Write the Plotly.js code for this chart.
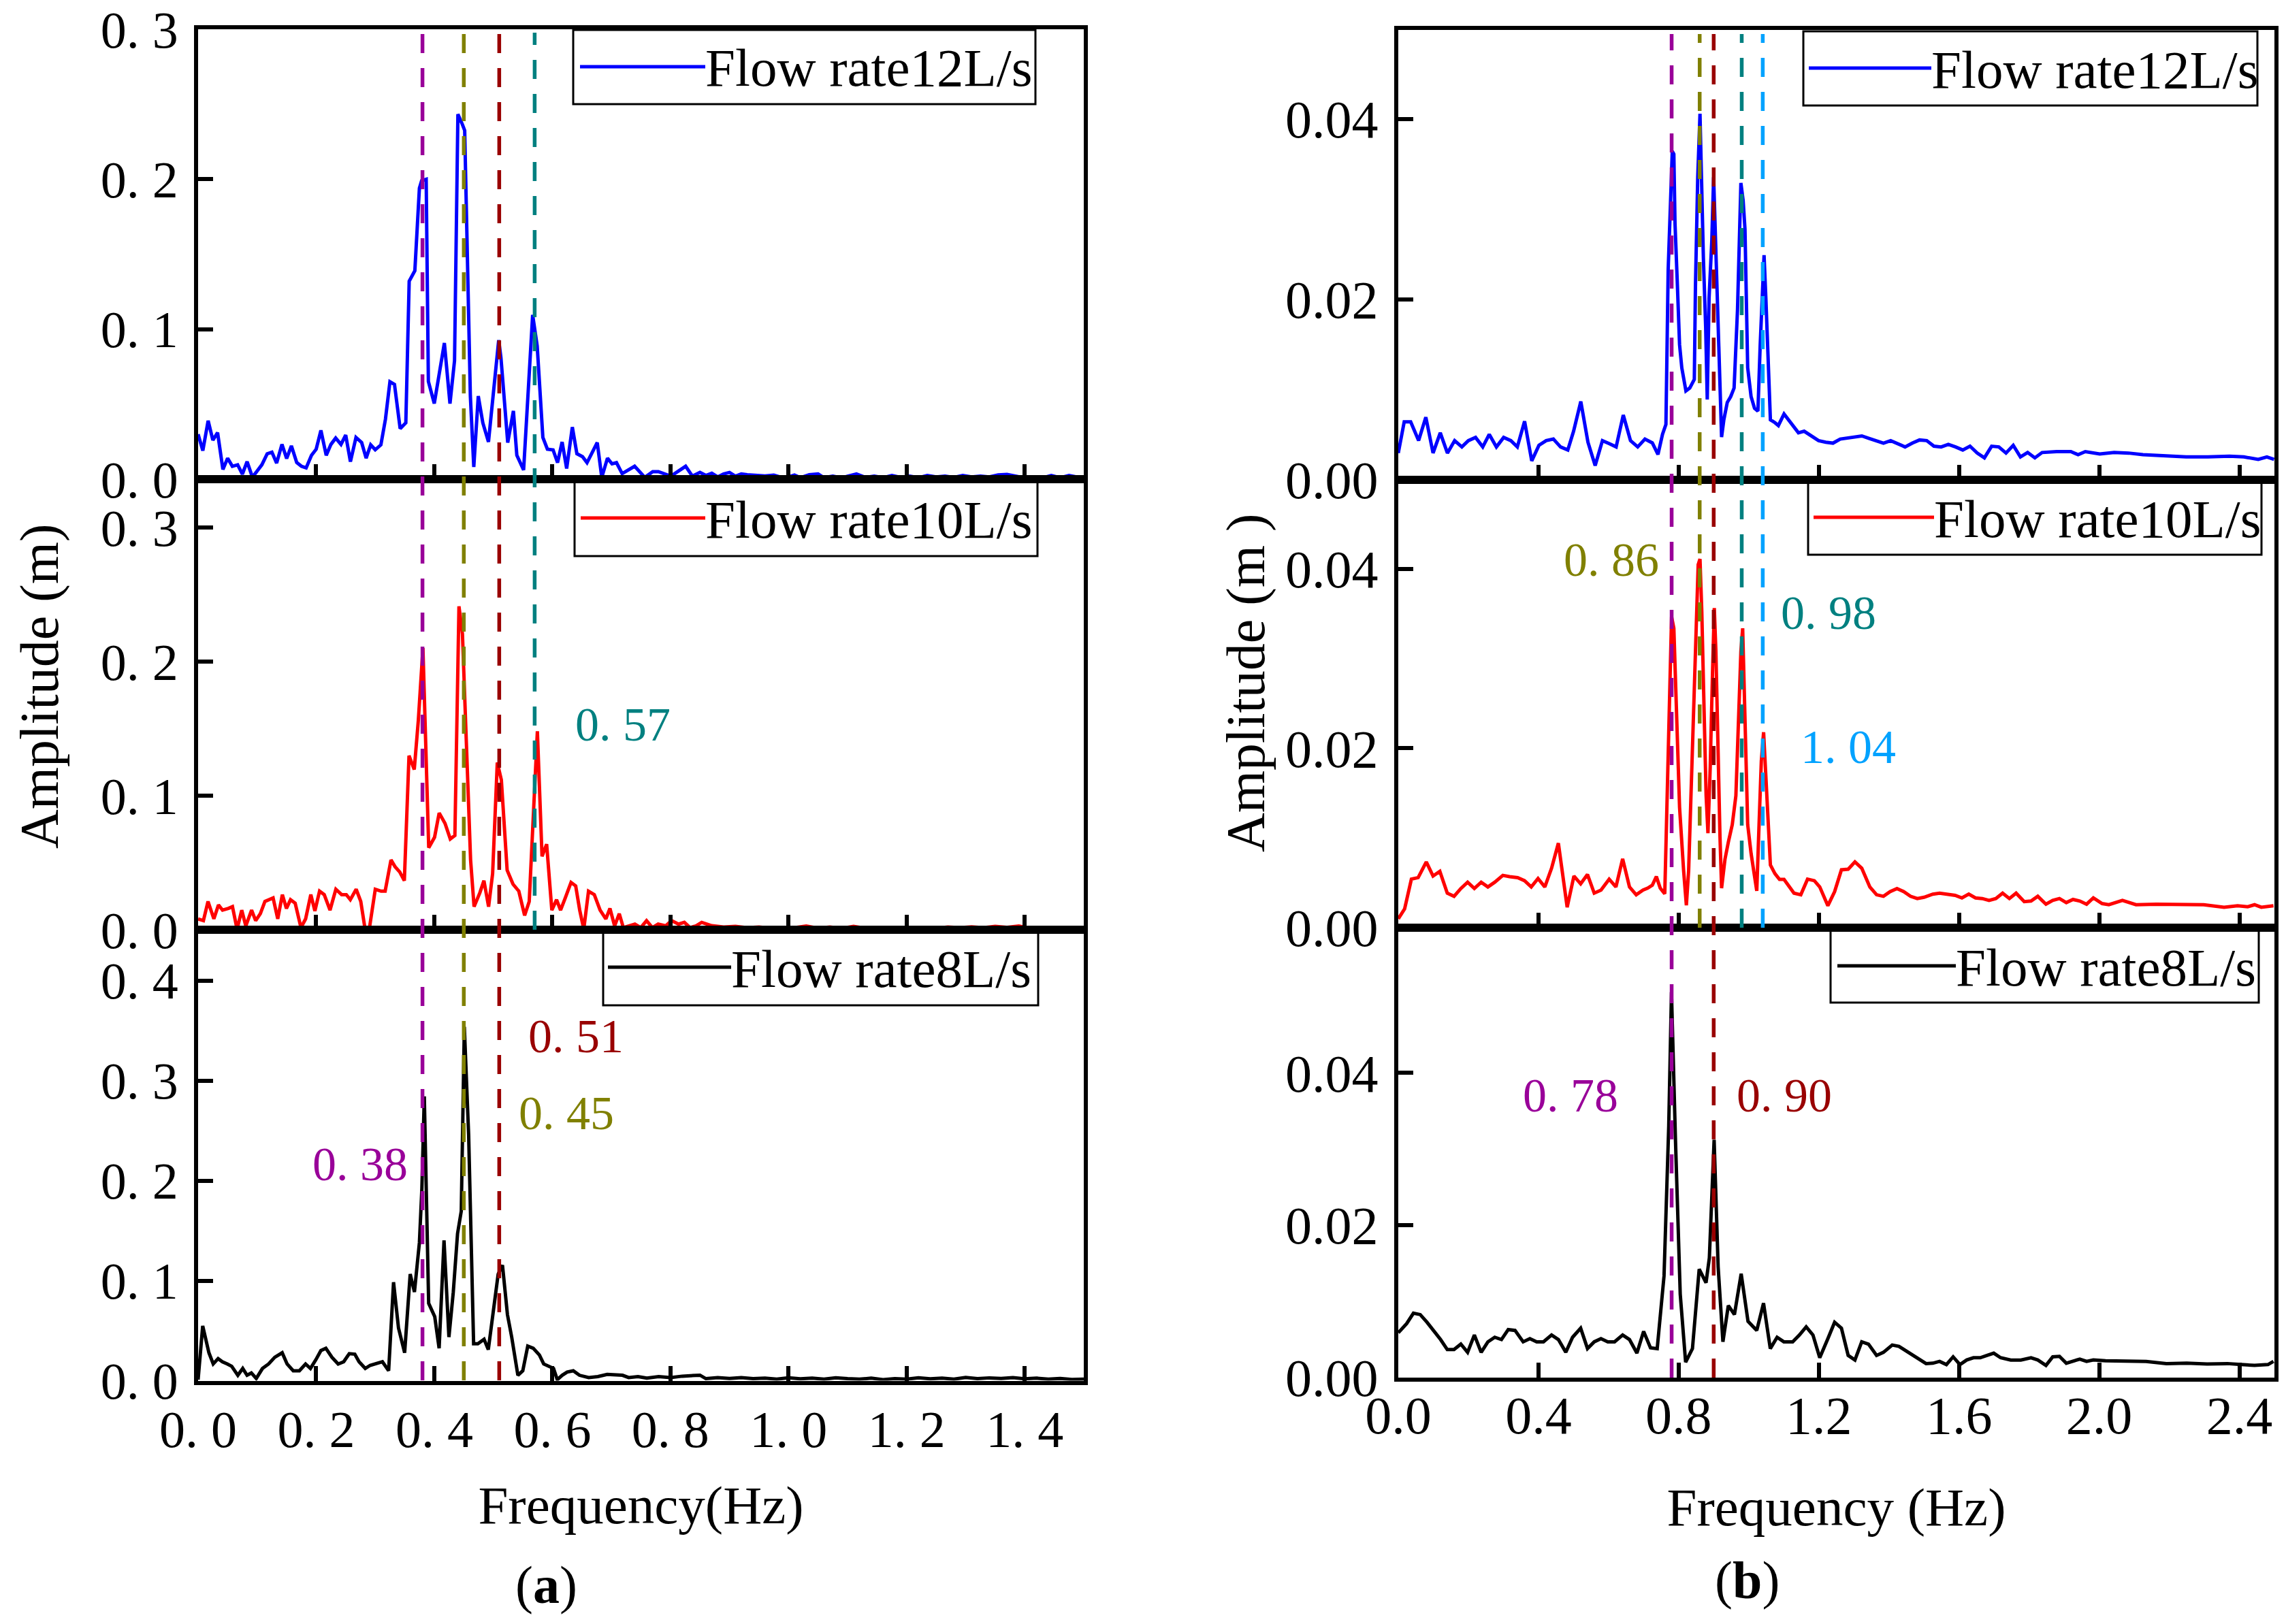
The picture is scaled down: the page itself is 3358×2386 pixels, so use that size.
<!DOCTYPE html>
<html>
<head>
<meta charset="utf-8">
<script src="https://cdn.plot.ly/plotly-3.0.1.min.js"></script>
<style>html,body{margin:0;padding:0;background:#fff;}#chart{width:3358px;height:2386px;}</style>
</head>
<body>
<div id="chart"></div>
<script>
// ---------- (a) series ----------
const freqA12 = [0,0.008,0.017,0.025,0.033,0.042,0.05,0.058,0.067,0.075,0.083,0.092,0.1,0.108,0.117,0.125,0.133,0.142,0.15,0.158,0.167,0.175,0.183,0.192,0.2,0.208,0.217,0.225,0.233,0.242,0.25,0.258,
0.2674,0.277,0.2846,0.2923,0.3,0.3096,0.3173,0.3249,0.3326,0.3422,0.3518,0.3575,0.3671,0.3748,0.3786,0.3863,0.39,0.4,0.4171,0.4266,0.4343,0.44,0.4477,0.4515,0.4611,0.4669,0.4745,0.4822,0.4918,0.5091,0.5129,0.5244,0.534,0.5398,0.5513,0.5666,0.5743,0.5839,0.5916,0.6012,0.6088,0.6165,0.6242,0.6338,0.6415,0.6511,0.6587,0.676,0.6837,0.6933,0.701,0.7086,0.7182,0.7393,0.7566,0.77,0.7796,0.8007,0.8257,0.8372,
0.85,0.86,0.87,0.88,0.89,0.9,0.91,0.92,0.93,0.94,0.95,0.96,0.975,0.99,1.0,1.01,1.02,1.035,1.05,1.06,1.075,1.09,1.1,1.115,1.13,1.145,1.16,1.175,1.19,1.205,1.22,1.235,1.25,1.265,1.28,1.295,1.31,1.325,1.34,1.355,1.37,1.385,1.4,1.415,1.43,1.445,1.46,1.475,1.49,1.5];
const ampA12 = [0.030,0.019,0.039,0.026,0.031,0.0065,0.014,0.0086,0.0096,0.0034,0.0117,0.0013,0.0054,0.0096,0.0169,0.018,0.0107,0.0232,0.0138,0.0222,0.0111,0.0086,0.0075,0.0159,0.020,0.0325,0.0159,0.0232,0.0274,0.0232,0.0294,0.0117,
0.0278,0.0244,0.014,0.0229,0.0196,0.0229,0.040,0.065,0.0632,0.0337,0.0376,0.132,0.139,0.194,0.199,0.200,0.0652,0.0504,0.0908,0.0504,0.079,0.2434,0.2364,0.2325,0.0554,0.0081,0.0554,0.0376,0.0248,0.0927,0.081,0.0244,0.0455,0.016,0.0061,0.1095,0.0888,0.0278,0.020,0.0195,0.011,0.0248,0.0071,0.0347,0.017,0.015,0.011,0.0244,0.0012,0.014,0.0102,0.011,0.0037,0.0086,0.0012,0.005,0.005,0.002,0.0086,0.002,
0.0045,0.0025,0.004,0.0015,0.0035,0.0045,0.002,0.0035,0.003,0.0028,0.0025,0.0022,0.0027,0.001,0.0015,0.0028,0.001,0.003,0.0035,0.001,0.002,0.0008,0.002,0.0035,0.0012,0.002,0.001,0.0025,0.0012,0.002,0.001,0.0025,0.0015,0.002,0.0012,0.0025,0.0015,0.002,0.0015,0.0028,0.0032,0.0018,0.0008,0.001,0.0008,0.0025,0.001,0.0025,0.001,0.0005];

const freqA10 = [0,0.009,0.0168,0.0267,0.0345,0.0414,0.0513,0.0582,0.066,0.0739,0.0808,0.0906,0.0975,0.1054,0.1132,0.1201,0.127,0.1349,0.1427,0.1496,0.1565,0.1644,0.1742,0.1821,0.1909,0.1978,0.2057,0.2136,0.2234,0.2333,0.2431,0.251,0.2578,0.2677,0.2755,0.2824,0.2903,0.3001,0.3099,0.3168,0.3267,0.3336,0.3415,0.3493,0.3572,0.3661,0.3729,0.3808,0.3906,0.4005,0.4083,0.4182,0.4271,0.4349,0.4418,0.4477,0.4615,0.4674,0.4772,0.4841,0.492,0.4988,0.5067,0.5136,0.5234,0.5333,0.5431,0.553,0.5608,0.5746,0.5825,0.5903,0.5991,0.6071,0.6139,0.6218,0.6316,0.6395,0.6463,0.6532,0.6612,0.671,0.6808,0.6906,0.6975,0.7054,0.7133,0.7202,0.73,0.7398,0.7497,0.7595,0.7694,0.7791,0.7919,0.8018,0.8137,0.8235,0.8332,0.8431,0.8529,
0.87,0.89,0.91,0.93,0.95,0.97,0.99,1.01,1.03,1.05,1.07,1.09,1.11,1.13,1.15,1.17,1.19,1.21,1.23,1.25,1.27,1.29,1.31,1.33,1.35,1.37,1.39,1.41,1.43,1.45,1.47,1.49,1.5];
const ampA10 = [0.0081,0.0068,0.0211,0.0081,0.0185,0.0146,0.0159,0.0172,0.0004,0.0146,0.0029,0.0146,0.0068,0.012,0.0211,0.0224,0.0237,0.0081,0.0262,0.0159,0.0224,0.0198,0.0016,0.0081,0.0262,0.014,0.0288,0.0262,0.0146,0.0302,0.0262,0.0262,0.0224,0.0302,0.0211,0.0016,0.0016,0.0302,0.0288,0.0288,0.0521,0.047,0.0431,0.0366,0.1298,0.1195,0.1557,0.2101,0.0612,0.069,0.0871,0.0793,0.0677,0.0703,0.2412,0.2205,0.0521,0.0172,0.0276,0.0366,0.0172,0.0418,0.1247,0.1117,0.0444,0.034,0.0288,0.0107,0.0211,0.148,0.0547,0.0638,0.0146,0.0224,0.0146,0.0237,0.0353,0.0327,0.0146,0.0004,0.0288,0.0262,0.0146,0.0081,0.0159,0.0029,0.012,0.0016,0.0029,0.0042,0.0016,0.0068,0.0016,0.0042,0.0029,0.0068,0.0042,0.0055,0.0016,0.0029,0.0055,
0.003,0.002,0.0025,0.0015,0.002,0.0012,0.0018,0.0015,0.0028,0.0012,0.002,0.001,0.0025,0.0012,0.0018,0.0008,0.0015,0.001,0.0018,0.0012,0.002,0.0015,0.0022,0.0015,0.0025,0.0018,0.0028,0.001,0.0015,0.0008,0.0012,0.0008,0.0015];

const freqA8 = [0,0.0078,0.0183,0.0256,0.0339,0.0412,0.0496,0.0569,0.0673,0.0756,0.0829,0.0902,0.0985,0.109,0.1194,0.1298,0.1424,0.1507,0.1611,0.1715,0.182,0.1903,0.1997,0.208,0.2164,0.2267,0.2372,0.2466,0.256,0.2654,0.2726,0.2831,0.2914,0.3019,0.3122,0.3227,0.331,0.3394,0.3498,0.3592,0.3664,0.3748,0.379,0.3831,0.3905,0.4008,0.4082,0.4165,0.4248,0.4322,0.4394,0.4457,0.4509,0.4582,0.4666,0.4738,0.4843,0.4915,0.4999,0.5082,0.5155,0.5239,0.5311,0.5416,0.5499,0.5583,0.5676,0.5781,0.5853,0.5937,0.602,0.6083,0.6166,0.625,0.6354,0.6459,0.6615,0.6771,0.6927,0.7188,0.7292,
0.745,0.76,0.78,0.8,0.82,0.835,0.85,0.86,0.88,0.9,0.92,0.94,0.96,0.98,1.0,1.02,1.04,1.06,1.08,1.1,1.12,1.14,1.16,1.18,1.2,1.22,1.24,1.26,1.28,1.3,1.32,1.34,1.36,1.38,1.4,1.42,1.44,1.46,1.48,1.5];
const ampA8 = [0.001,0.0548,0.0279,0.0167,0.022,0.0189,0.0167,0.0144,0.0054,0.0122,0.0054,0.0077,0.0022,0.0122,0.0167,0.0234,0.0279,0.0167,0.0099,0.0099,0.0167,0.0122,0.0212,0.0301,0.0324,0.0234,0.0167,0.0189,0.027,0.0265,0.0189,0.0122,0.0153,0.0167,0.0189,0.0099,0.0984,0.0526,0.0279,0.1065,0.0886,0.138,0.192,0.2841,0.0773,0.0639,0.0324,0.1403,0.0436,0.0886,0.147,0.1695,0.3537,0.2459,0.0369,0.0369,0.0414,0.031,0.0706,0.1065,0.1155,0.0661,0.0436,0.0054,0.0099,0.0346,0.0324,0.0256,0.0167,0.0144,0.0122,0.001,0.0054,0.0086,0.0099,0.0054,0.0031,0.0041,0.0063,0.0054,0.0031,
0.004,0.0025,0.004,0.003,0.0045,0.005,0.0055,0.002,0.003,0.0022,0.003,0.002,0.0025,0.0015,0.0028,0.0018,0.0025,0.0015,0.0028,0.002,0.0015,0.0025,0.001,0.002,0.0015,0.0028,0.0018,0.0025,0.0015,0.0032,0.002,0.0028,0.0022,0.003,0.0018,0.0025,0.0015,0.0022,0.0012,0.0015];

// ---------- (b) series ----------
const freqB12 = [0,0.0169,0.0354,0.058,0.0786,0.0992,0.1198,0.1402,0.1608,0.1814,0.1999,0.2205,0.241,0.2596,0.28,0.3007,0.3213,0.3397,0.3604,0.3808,0.4014,0.422,0.4426,0.463,0.4837,0.5002,0.5208,0.5412,0.5618,0.5825,0.6029,0.6216,0.642,0.6626,0.6832,0.7038,
0.7248,0.741,0.754,0.7637,0.7701,0.7766,0.7818,0.7863,0.7896,0.796,0.8026,0.809,0.8207,0.8317,0.8447,0.8479,0.8544,0.8609,0.866,0.8706,0.8771,0.8816,0.8868,0.8946,0.8998,0.905,0.9115,0.9179,0.9225,0.929,0.9387,0.9484,0.9582,0.9679,0.9776,0.984,0.9893,0.997,1.0067,1.0165,1.0262,1.0327,1.0391,1.0437,1.0489,1.0554,1.0618,1.0748,1.0846,1.1007,
1.1252,1.1418,1.1581,1.1787,1.1993,1.2199,1.2404,1.261,1.2816,1.3021,1.3227,1.3433,1.3639,1.3844,1.405,1.4256,1.4461,1.4667,1.4873,1.5078,1.5284,1.549,1.5695,1.5901,1.6107,1.6313,1.6518,1.6724,1.693,1.7135,1.7341,1.7547,1.7752,1.7958,1.8164,1.837,1.8781,1.9192,1.9398,1.9603,2.0015,2.0426,2.0837,2.1248,2.1865,2.2482,2.3099,2.3716,2.4127,2.4538,2.4785,2.499];
const ampB12 = [0.00297,0.00643,0.00643,0.00435,0.00695,0.00297,0.00522,0.00297,0.00435,0.00365,0.00435,0.0047,0.00365,0.00504,0.00365,0.0047,0.00435,0.00365,0.0065,0.0021,0.00383,0.00435,0.00452,0.00365,0.00331,0.00539,0.00868,0.00417,0.00158,0.00435,0.004,0.00365,0.00719,0.00435,0.00365,0.00452,
0.0041,0.00282,0.00506,0.00615,0.0233,0.03035,0.03642,0.0361,0.02842,0.02202,0.01498,0.01242,0.00986,0.01018,0.01114,0.02138,0.03355,0.04059,0.03162,0.02458,0.01691,0.0089,0.02011,0.02651,0.03355,0.02651,0.01691,0.0105,0.00474,0.00666,0.00858,0.00922,0.01018,0.01882,0.0329,0.03098,0.02778,0.01242,0.00922,0.00794,0.00762,0.01498,0.02202,0.02491,0.02011,0.01306,0.00666,0.00634,0.00602,0.0073,
0.00608,0.00522,0.00539,0.00487,0.00435,0.00417,0.00407,0.00452,0.00462,0.0047,0.00487,0.0046,0.00435,0.00407,0.00435,0.004,0.00365,0.00407,0.00442,0.00435,0.00373,0.00365,0.00393,0.00365,0.00331,0.00373,0.00297,0.00244,0.00373,0.00365,0.00297,0.00383,0.00254,0.00303,0.00244,0.00303,0.00313,0.00313,0.00279,0.00313,0.00286,0.00303,0.00297,0.00279,0.00262,0.00254,0.00254,0.00262,0.00254,0.00227,0.00254,0.00227];

const freqB10 = [0,0.0181,0.0374,0.0567,0.0799,0.0992,0.1186,0.1398,0.1591,0.1785,0.1978,0.2171,0.2365,0.2557,0.2752,0.2983,0.3176,0.3407,0.3602,0.3794,0.3987,0.4181,0.4374,0.4568,0.4819,0.5012,0.5204,0.5399,0.5591,0.5784,0.6017,0.621,0.6402,0.6597,0.6789,0.6982,
0.7118,0.7248,0.7364,0.7474,0.7604,0.7669,0.7734,0.7798,0.7863,0.7928,0.8026,0.8142,0.822,0.8285,0.8382,0.8479,0.8557,0.8609,0.866,0.8725,0.8784,0.8836,0.8901,0.8965,0.9017,0.9063,0.9115,0.9179,0.9225,0.9322,0.9419,0.953,0.9633,0.9698,0.9776,0.9827,0.9873,0.997,1.0067,1.0165,1.0229,1.0294,1.0359,1.0424,1.0476,1.0541,1.0618,1.0748,1.0878,1.1007,
1.106,1.1291,1.1486,1.1678,1.1871,1.2026,1.2258,1.245,1.2645,1.2837,1.303,1.3224,1.3456,1.3648,1.3843,1.4035,1.423,1.4422,1.4615,1.4809,1.5002,1.5253,1.5445,1.564,1.5891,1.6083,1.6278,1.647,1.6663,1.6857,1.705,1.7244,1.7437,1.7629,1.7861,1.8055,1.8248,1.8481,1.8674,1.8866,1.9061,1.9253,1.9446,1.964,1.9833,2.0084,2.0276,2.0663,2.105,2.163,2.2209,2.2983,2.3563,2.3948,2.4238,2.4432,2.4625,2.4973];
const ampB10 = [0.001,0.0021,0.00541,0.00558,0.00733,0.00576,0.00628,0.00385,0.0035,0.00437,0.00507,0.00437,0.00507,0.00454,0.00507,0.00583,0.00569,0.00558,0.00524,0.00454,0.00548,0.00454,0.00663,0.00942,0.00228,0.00576,0.00489,0.00593,0.00385,0.00419,0.00541,0.00454,0.00768,0.00454,0.00367,0.00419,
0.00441,0.00474,0.0057,0.00441,0.00377,0.01471,0.02629,0.03465,0.03336,0.02629,0.01342,0.00635,0.00249,0.00635,0.01792,0.03079,0.04044,0.04108,0.03529,0.02436,0.01471,0.01053,0.01792,0.02821,0.03562,0.03079,0.01986,0.01021,0.00441,0.00763,0.00956,0.01149,0.01471,0.02178,0.03079,0.03336,0.02629,0.01149,0.00827,0.0057,0.0041,0.01149,0.01857,0.02178,0.01792,0.01149,0.00699,0.00602,0.00538,0.00538,
0.00507,0.00385,0.00367,0.00541,0.00524,0.00454,0.00245,0.00402,0.00645,0.00652,0.00733,0.00663,0.00454,0.00367,0.0035,0.00402,0.00437,0.00402,0.0035,0.00325,0.00339,0.00374,0.00385,0.00374,0.0036,0.00332,0.00374,0.00332,0.00325,0.00304,0.00325,0.00385,0.00325,0.00385,0.0029,0.00297,0.0035,0.00262,0.00304,0.00325,0.0028,0.00315,0.00297,0.00262,0.00332,0.00269,0.00256,0.00304,0.00256,0.00262,0.00256,0.00256,0.00228,0.00245,0.00234,0.00256,0.00228,0.00245];

const freqB8 = [0,0.0239,0.0432,0.0626,0.0819,0.1011,0.1206,0.1398,0.1591,0.1785,0.1978,0.2171,0.2365,0.2557,0.2752,0.2944,0.3137,0.3331,0.3563,0.3755,0.395,0.4142,0.4374,0.4568,0.478,0.4973,0.5204,0.5399,0.5591,0.5784,0.5978,0.6171,0.6402,0.6597,0.6809,0.7001,0.7196,0.7388,0.7583,0.7717,0.7795,0.7909,0.8045,0.8199,0.8394,0.8586,0.8781,0.8876,0.9012,0.9127,0.9263,0.9417,0.9592,0.9784,0.9979,1.0229,1.0422,1.0615,1.0809,1.1002,1.1253,1.1447,1.1639,1.1832,1.2026,1.2258,1.245,1.2645,1.2837,1.303,1.3224,1.3417,1.3648,1.3843,1.4094,1.4286,1.4481,1.4673,1.4866,1.506,1.5253,1.5445,1.564,1.5832,1.6027,1.6219,1.6412,1.6606,1.6799,1.6991,1.7186,1.7476,1.7765,1.8055,1.8248,1.8481,1.8674,1.8866,1.9061,1.9253,1.9446,1.964,1.9833,2.0181,2.076,2.134,2.1919,2.2499,2.3078,2.3658,2.4045,2.4432,2.4817,2.4973];
const ampB8 = [0.00585,0.00705,0.00842,0.00824,0.00723,0.00616,0.00496,0.00364,0.00364,0.00436,0.00328,0.00556,0.00328,0.00466,0.00526,0.00496,0.00627,0.00616,0.00466,0.00507,0.00466,0.00466,0.00556,0.00496,0.00328,0.00526,0.00645,0.00377,0.00466,0.00507,0.00466,0.00466,0.00556,0.00496,0.00317,0.00603,0.00388,0.00377,0.01332,0.03302,0.05063,0.03122,0.01093,0.00198,0.00377,0.01421,0.01242,0.0157,0.03122,0.01451,0.00466,0.00943,0.00824,0.01361,0.00735,0.00616,0.00974,0.00377,0.00526,0.00466,0.00466,0.00556,0.00663,0.00556,0.00257,0.00507,0.00723,0.00645,0.00287,0.00227,0.00466,0.00436,0.00287,0.00328,0.00424,0.00406,0.00346,0.00287,0.00227,0.0018,0.00185,0.00209,0.00167,0.00269,0.00167,0.00227,0.00257,0.00257,0.00287,0.00317,0.00257,0.00227,0.00227,0.00257,0.00227,0.00156,0.00269,0.00275,0.00185,0.00209,0.00239,0.00209,0.00227,0.00216,0.00209,0.00209,0.0018,0.00185,0.00174,0.0018,0.00167,0.00156,0.00167,0.00209];

// ---------- labels, ticks, marker frequencies ----------
const seriesNames = ["Flow rate12L/s", "Flow rate10L/s", "Flow rate8L/s"];
const seriesColors = ["#0000ff", "#ff0000", "#000000"];
const tickValsAX = [0, 0.2, 0.4, 0.6, 0.8, 1.0, 1.2, 1.4];
const tickTextAX = ["0. 0", "0. 2", "0. 4", "0. 6", "0. 8", "1. 0", "1. 2", "1. 4"];
const tickValsAY3 = [0, 0.1, 0.2, 0.3];
const tickTextAY3 = ["0. 0", "0. 1", "0. 2", "0. 3"];
const tickValsAY4 = [0, 0.1, 0.2, 0.3, 0.4];
const tickTextAY4 = ["0. 0", "0. 1", "0. 2", "0. 3", "0. 4"];
const tickValsBX = [0, 0.4, 0.8, 1.2, 1.6, 2.0, 2.4];
const tickTextBX = ["0.0", "0.4", "0.8", "1.2", "1.6", "2.0", "2.4"];
const tickValsBY = [0, 0.02, 0.04];
const tickTextBY = ["0.00", "0.02", "0.04"];
// dominant frequencies (Hz) and their label text
const markFreqA = [0.38, 0.45, 0.51, 0.57];
const markTextA = ["0. 38", "0. 45", "0. 51", "0. 57"];
const markFreqB = [0.78, 0.86, 0.90, 0.98, 1.04];
const markTextB = ["0. 78", "0. 86", "0. 90", "0. 98", "1. 04"];

// ---------- layout helpers ----------
const W = 3358, H = 2386;
const px = v => v / W, py = v => 1 - v / H;
const FONT = "Liberation Serif, Times New Roman, serif";
const C = {purple:"#990099", olive:"#808000", dred:"#990000", teal:"#008080", lblue:"#00a2ff"};
const markColorA = [C.purple, C.olive, C.dred, C.teal];
const markColorB = [C.purple, C.olive, C.dred, C.teal, C.lblue];

const domXA = [px(291), px(1592)], domXB = [px(2054), px(3341)];
const domYA = [[py(704), py(43)], [py(1366), py(704)], [py(2028.5), py(1366)]];
const domYB = [[py(705), py(43.6)], [py(1363), py(705)], [py(2023.5), py(1363)]];
const rangeYA = [[0, 0.3], [0, 0.336], [0, 0.4507]];
const rangeYB = [[0, 0.0499], [0, 0.0499], [0, 0.0591]];

const freqs = [freqA12, freqA10, freqA8, freqB12, freqB10, freqB8];
const amps = [ampA12, ampA10, ampA8, ampB12, ampB10, ampB8];

const data = [];
for (let i = 0; i < 6; i++) {
  const s = i === 0 ? "" : String(i + 1);
  data.push({
    type: "scatter", mode: "lines", x: freqs[i], y: amps[i],
    name: seriesNames[i % 3], showlegend: false,
    xaxis: "x" + s, yaxis: "y" + s,
    line: {color: seriesColors[i % 3], width: 5}, hoverinfo: "skip"
  });
}

const layout = {
  width: W, height: H, margin: {l: 0, r: 0, t: 0, b: 0},
  paper_bgcolor: "#ffffff", plot_bgcolor: "#ffffff", showlegend: false,
  font: {family: FONT, color: "#000", size: 76},
  shapes: [], annotations: []
};

function xAxis(isA, bottom, anchor) {
  return {
    domain: isA ? domXA : domXB, anchor: anchor,
    range: isA ? [0, 1.5] : [0, 2.5],
    tickmode: "array", tickvals: isA ? tickValsAX : tickValsBX, ticktext: isA ? tickTextAX : tickTextBX,
    showticklabels: bottom, ticks: "inside", ticklen: 22, tickwidth: 6, tickcolor: "#000",
    showline: true, linewidth: 6, linecolor: "#000", mirror: true,
    showgrid: false, zeroline: false, ticklabelstandoff: isA ? 0 : -17,
    tickfont: {family: FONT, size: isA ? 76 : 78, color: "#000"}, fixedrange: true
  };
}
function yAxis(isA, row, anchor) {
  return {
    domain: isA ? domYA[row] : domYB[row], anchor: anchor,
    range: isA ? rangeYA[row] : rangeYB[row],
    tickmode: "array",
    tickvals: isA ? (row === 2 ? tickValsAY4 : tickValsAY3) : tickValsBY,
    ticktext: isA ? (row === 2 ? tickTextAY4 : tickTextAY3) : tickTextBY,
    ticks: "inside", ticklen: 22, tickwidth: 6, tickcolor: "#000",
    showline: true, linewidth: 6, linecolor: "#000", mirror: true,
    showgrid: false, zeroline: false, ticklabelstandoff: 8,
    tickfont: {family: FONT, size: isA ? 76 : 78, color: "#000"}, fixedrange: true
  };
}
for (let i = 0; i < 6; i++) {
  const s = i === 0 ? "" : String(i + 1);
  const isA = i < 3, row = i % 3;
  layout["xaxis" + s] = xAxis(isA, row === 2, "y" + s);
  layout["yaxis" + s] = yAxis(isA, row, "x" + s);
}
layout.xaxis3.title = {text: "Frequency(Hz)", font: {family: FONT, size: 79, color: "#000"}, standoff: 44};
layout.xaxis6.title = {text: "Frequency (Hz)", font: {family: FONT, size: 79, color: "#000"}, standoff: 66};

// dashed marker lines
const dash = "28px,22px";
markFreqA.forEach((f, k) => {
  const yBottom = k === 3 ? py(1366) : py(2028);
  layout.shapes.push({type: "line", xref: "x3", yref: "paper", x0: f, x1: f, y0: yBottom, y1: py(48),
    line: {color: markColorA[k], width: 5.5, dash: dash}, layer: "above"});
});
markFreqB.forEach((f, k) => {
  const yBottom = (k === 0 || k === 2) ? py(2024) : py(1363);
  layout.shapes.push({type: "line", xref: "x6", yref: "paper", x0: f, x1: f, y0: yBottom, y1: py(50),
    line: {color: markColorB[k], width: 5.5, dash: dash}, layer: "above"});
});

// frequency labels
const labelPosA = [[528.5, 1710], [831.5, 1635], [845.5, 1522], [914.5, 1064]];
const labelPosB = [[2306.5, 1610], [2366.5, 822], [2621, 1610], [2685.5, 900], [2714.5, 1098]];
markTextA.forEach((t, k) => layout.annotations.push({text: t, xref: "paper", yref: "paper",
  x: px(labelPosA[k][0]), y: py(labelPosA[k][1]), xanchor: "center", yanchor: "middle", showarrow: false,
  font: {family: FONT, size: 70, color: markColorA[k]}}));
markTextB.forEach((t, k) => layout.annotations.push({text: t, xref: "paper", yref: "paper",
  x: px(labelPosB[k][0]), y: py(labelPosB[k][1]), xanchor: "center", yanchor: "middle", showarrow: false,
  font: {family: FONT, size: 70, color: markColorB[k]}}));

// legend boxes (box x0,y0,x1,y1, line x0,x1,y)
const legendGeo = [
  [842, 44, 1521, 153, 852, 1036, 98],
  [844, 706, 1524, 817, 853, 1036, 761],
  [886, 1368, 1525, 1477, 893, 1074, 1421],
  [2649, 46, 3316, 155, 2657, 2837, 100],
  [2656, 705, 3322, 815, 2664, 2841, 760],
  [2689, 1365, 3318, 1473, 2699, 2873, 1419]
];
legendGeo.forEach((g, i) => {
  layout.shapes.push({type: "rect", xref: "paper", yref: "paper", x0: px(g[0]), x1: px(g[2]), y0: py(g[3]), y1: py(g[1]),
    line: {color: "#000", width: 3}, fillcolor: "rgba(255,255,255,0)", layer: "above"});
  layout.shapes.push({type: "line", xref: "paper", yref: "paper", x0: px(g[4]), x1: px(g[5]), y0: py(g[6]), y1: py(g[6]),
    line: {color: seriesColors[i % 3], width: 5}, layer: "above"});
  layout.annotations.push({text: seriesNames[i % 3], xref: "paper", yref: "paper", x: px(g[5] - 2), y: py(g[6] + 2),
    xanchor: "left", yanchor: "middle", showarrow: false, font: {family: FONT, size: 79, color: "#000"}});
});

// y-axis titles and panel captions
layout.annotations.push({text: "Amplitude (m)", xref: "paper", yref: "paper", x: px(58), y: py(1008),
  textangle: -90, xanchor: "center", yanchor: "middle", showarrow: false, font: {family: FONT, size: 80, color: "#000"}});
layout.annotations.push({text: "Amplitude (m )", xref: "paper", yref: "paper", x: px(1830), y: py(1003),
  textangle: -90, xanchor: "center", yanchor: "middle", showarrow: false, font: {family: FONT, size: 80, color: "#000"}});
layout.annotations.push({text: "(<b>a</b>)", xref: "paper", yref: "paper", x: px(802), y: py(2328),
  xanchor: "center", yanchor: "middle", showarrow: false, font: {family: FONT, size: 78, color: "#000"}});
layout.annotations.push({text: "(<b>b</b>)", xref: "paper", yref: "paper", x: px(2566), y: py(2321),
  xanchor: "center", yanchor: "middle", showarrow: false, font: {family: FONT, size: 78, color: "#000"}});

Plotly.newPlot("chart", data, layout, {staticPlot: true, displayModeBar: false});
</script>
</body>
</html>
